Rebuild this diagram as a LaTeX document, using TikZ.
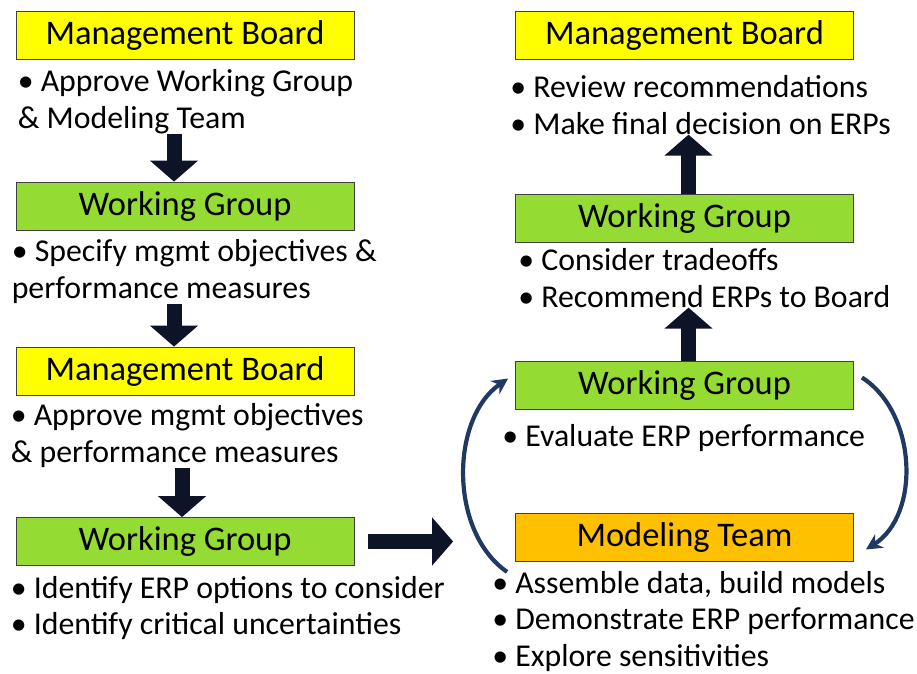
\documentclass[tikz,border=0pt]{standalone}
\usepackage{fontspec}
\setmainfont{Carlito}
\usepackage{tikz}
\usetikzlibrary{arrows.meta,positioning}
\definecolor{boardyellow}{RGB}{255,255,0}
\definecolor{groupgreen}{RGB}{148,220,52}
\definecolor{teamorange}{RGB}{255,192,0}
\definecolor{arrowink}{RGB}{14,20,40}
\definecolor{loopblue}{RGB}{31,56,100}

\begin{document}
\begin{tikzpicture}[x=1pt, y=-1pt,
    box/.style={draw=black!75, line width=0.8pt, minimum width=338pt, minimum height=48pt, inner sep=0pt, font=\fontsize{34.5}{40}\selectfont},
    note/.style={inner sep=0pt, align=left, font=\fontsize{31.8}{36.5}\selectfont},
    blockarrow/.style={arrowink, line width=15pt, -{Triangle[length=21pt, width=47pt]}},
    looparrow/.style={loopblue, line width=4.2pt, -{Stealth[length=16pt, width=16pt]}}]
    \useasboundingbox (0,0) rectangle (917,673);

    % left column
    \node[box, fill=boardyellow] (mb1) at (185,35) {Management Board};
    \node[note, below right=10pt and 2pt of mb1.south west] (mb1note) {\textbullet\ Approve Working Group\\\& Modeling Team};
    \node[box, fill=groupgreen] (wg1) at (185,206) {Working Group};
    \node[note, below right=9pt and -4pt of wg1.south west] (wg1note) {\textbullet\ Specify mgmt objectives \&\\performance measures};
    \node[box, fill=boardyellow] (mb2) at (185,371) {Management Board};
    \node[note, below right=8pt and -5pt of mb2.south west] (mb2note) {\textbullet\ Approve mgmt objectives\\\& performance measures};
    \node[box, fill=groupgreen] (wg2) at (185,541.5) {Working Group};
    \node[note, below right=10pt and -5pt of wg2.south west] (wg2note) {\textbullet\ Identify ERP options to consider\\\textbullet\ Identify critical uncertainties};

    % right column
    \node[box, fill=boardyellow] (mb3) at (684.5,35) {Management Board};
    \node[note, below right=16pt and -5pt of mb3.south west] (mb3note) {\textbullet\ Review recommendations\\\textbullet\ Make final decision on ERPs};
    \node[box, fill=groupgreen] (wg3) at (684.5,218) {Working Group};
    \node[note, below right=6pt and 3pt of wg3.south west] (wg3note) {\textbullet\ Consider tradeoffs\\\textbullet\ Recommend ERPs to Board};
    \node[box, fill=groupgreen] (wg4) at (684.5,385.5) {Working Group};
    \node[note, below right=14pt and -13pt of wg4.south west] (wg4note) {\textbullet\ Evaluate ERP performance};
    \node[box, fill=teamorange] (mt) at (684.5,537.5) {Modeling Team};
    \node[note, below right=9pt and -23pt of mt.south west] (mtnote) {\textbullet\ Assemble data, build models\\\textbullet\ Demonstrate ERP performance\\\textbullet\ Explore sensitivities};

    % block arrows
    \draw[blockarrow] ([xshift=-11pt]wg1.north |- mb1note.south) -- ([xshift=-11pt]wg1.north);
    \draw[blockarrow] ([xshift=-11pt]mb2.north |- wg1note.south) -- ([xshift=-11pt]mb2.north);
    \draw[blockarrow] ([xshift=-3pt]wg2.north |- mb2note.south) -- ([xshift=-3pt]wg2.north);
    \draw[blockarrow, shorten <=14pt, shorten >=62pt] (wg2.east) -- (wg2.east -| mt.west);
    \draw[blockarrow] ([xshift=4pt]wg3.north) -- ([xshift=4pt]wg3.north |- mb3note.south);
    \draw[blockarrow] ([xshift=4pt]wg4.north) -- ([xshift=4pt]wg4.north |- wg3note.south);

    % evaluation loop
    \draw[looparrow] ([shift={(-8,10)}]mt.south west) .. controls +(-58,-40) and +(-58,40) .. ([shift={(-7,-7)}]wg4.west);
    \draw[looparrow] ([shift={(8,-8)}]wg4.east) .. controls +(55,35) and +(55,-35) .. ([shift={(12,12)}]mt.east);
\end{tikzpicture}
\end{document}
